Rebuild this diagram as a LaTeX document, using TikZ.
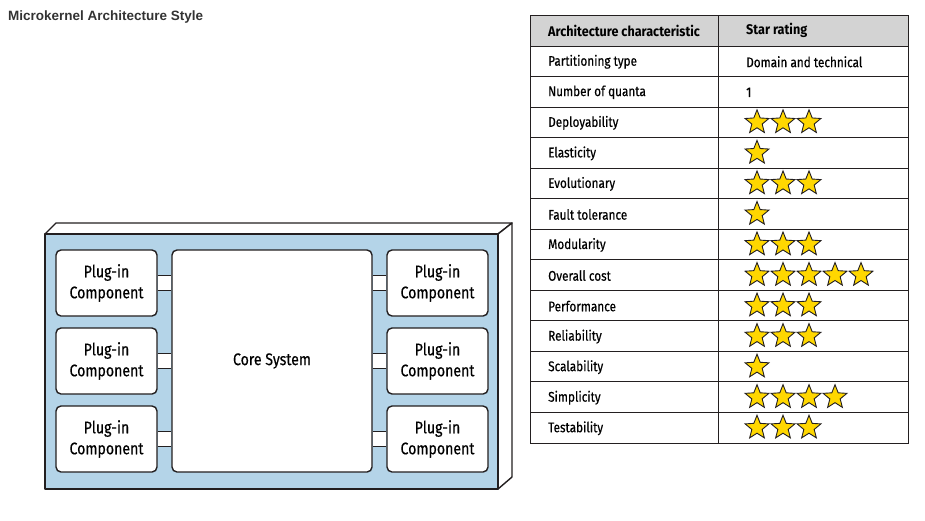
\documentclass[tikz,border=0pt]{standalone}
\usepackage{fontspec}
\setmainfont{Liberation Sans}
\newfontfamily\condfont[FakeStretch=0.84,FakeBold=0.4]{Fira Sans}
\newfontfamily\condhead[FakeStretch=0.9]{Fira Sans}
\usetikzlibrary{shapes.geometric}

\definecolor{boxblue}{RGB}{180,212,232}
\definecolor{headgray}{RGB}{211,211,211}
\definecolor{stargold}{RGB}{255,215,0}
\definecolor{inkdark}{RGB}{35,31,32}
\definecolor{titlegray}{RGB}{51,51,51}

\begin{document}
\begin{tikzpicture}[x=1pt,y=-1pt,
    edge/.style={draw=inkdark,line width=1.4pt,line join=round},
    plugin/.style={edge,fill=white,rounded corners=5pt,minimum width=101pt,minimum height=66pt,
      align=center,inner sep=0pt,font=\condfont\fontsize{16.8}{21}\selectfont},
    corebox/.style={plugin,minimum width=200pt,minimum height=222pt},
    cell/.style={anchor=west,inner sep=0pt,font=\condfont\fontsize{14}{16}\selectfont},
    ratingstar/.style={star,star points=5,star point ratio=2.3,minimum size=25pt,inner sep=0pt,
      draw=inkdark,line width=0.9pt,fill=stargold}]
\useasboundingbox (0,0) rectangle (925,520);

% title
\node[anchor=west,inner sep=0pt,text=titlegray,font=\bfseries\fontsize{13.5}{16}\selectfont] (title) at (8,17) {Microkernel Architecture Style};

% container box
\fill[boxblue] (45,234) rectangle (498,489);
\draw[edge,fill=white] (45,234) -- (56,223) -- (512,223) -- (498,234) -- cycle;
\draw[edge,fill=white] (498,234) -- (512,223) -- (512,477) -- (498,489) -- cycle;
\draw[edge] (45,234) rectangle (498,489);

% core and plug-ins
\node[corebox] (core) at (272,361) {Core System};
\foreach \p/\y in {1/283,2/361,3/439}{
  \node[plugin] (pl\p) at (106.5,\y) {Plug-in\\Component};
  \node[plugin] (pr\p) at (437.5,\y) {Plug-in\\Component};
}
\foreach \p in {1,2,3}{
  \fill[white] ([xshift=0.7pt,yshift=7.5pt]pl\p.east) rectangle ([xshift=-0.7pt,yshift=-7.5pt]pl\p.east -| core.west);
  \draw[edge] ([yshift=7.5pt]pl\p.east) -- ([yshift=7.5pt]pl\p.east -| core.west);
  \draw[edge] ([yshift=-7.5pt]pl\p.east) -- ([yshift=-7.5pt]pl\p.east -| core.west);
  \fill[white] ([xshift=-0.7pt,yshift=7.5pt]pr\p.west) rectangle ([xshift=0.7pt,yshift=-7.5pt]pr\p.west -| core.east);
  \draw[edge] ([yshift=7.5pt]pr\p.west) -- ([yshift=7.5pt]pr\p.west -| core.east);
  \draw[edge] ([yshift=-7.5pt]pr\p.west) -- ([yshift=-7.5pt]pr\p.west -| core.east);
}

% rating table
\fill[headgray] (530,15) rectangle (908,46);
\foreach \i/\name/\val/\n in {1/Partitioning type/Domain and technical/0,
    2/Number of quanta/1/0, 3/Deployability//3, 4/Elasticity//1, 5/Evolutionary//3,
    6/Fault tolerance//1, 7/Modularity//3, 8/Overall cost//5, 9/Performance//3,
    10/Reliability//3, 11/Scalability//1, 12/Simplicity//4, 13/Testability//3}{
  \draw[draw=inkdark,line width=1pt] (530,{46+\i*30.54}) -- (908,{46+\i*30.54});
  \node[cell] (r\i) at (548,{46.5+(\i-0.5)*30.54}) {\name};
  \node[cell] (v\i) at (746,{46.5+(\i-0.5)*30.54}) {\val};
  \ifnum\n>0
    \foreach \k in {1,...,\n}
      \node[ratingstar] (s\i-\k) at ({757+26*(\k-1)},{46+(\i-0.5)*30.54}) {};
  \fi
}
\node[cell,font=\condhead\bfseries\fontsize{14}{16}\selectfont] (h1) at (548,30.5) {Architecture characteristic};
\node[cell,font=\condhead\bfseries\fontsize{14}{16}\selectfont] (h2) at (746,30.5) {Star rating};
\draw[draw=inkdark,line width=1pt] (530,15) rectangle (908,443);
\draw[draw=inkdark,line width=1pt] (530,46) -- (908,46);
\draw[draw=inkdark,line width=1pt] (718,15) -- (718,443);
\end{tikzpicture}
\end{document}
